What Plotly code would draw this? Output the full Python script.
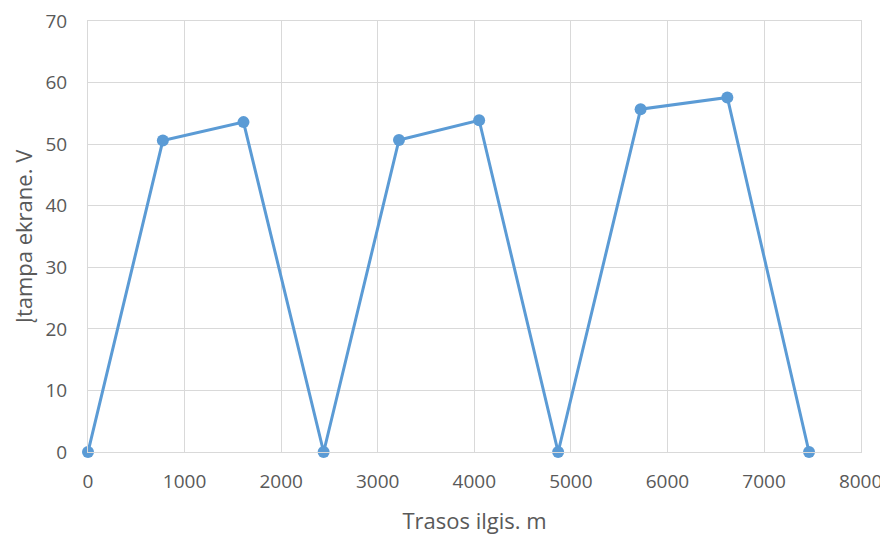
import plotly.graph_objects as go

distance_m = [0, 775, 1610, 2440, 3220, 4050, 4868, 5722, 6620, 7466]
voltage_v = [0, 50.6, 53.6, 0, 50.7, 53.9, 0, 55.7, 57.6, 0]

x_ticks = [0, 1000, 2000, 3000, 4000, 5000, 6000, 7000, 8000]
y_ticks = [0, 10, 20, 30, 40, 50, 60, 70]

x_title = "Trasos ilgis. m"
y_title = "Įtampa ekrane. V"

line_color = "#5B9BD5"
grid_color = "#D9D9D9"
text_color = "#595959"
font_family = "Open Sans, Segoe UI, Liberation Sans, sans-serif"

fig = go.Figure()
fig.add_trace(go.Scatter(
    x=distance_m, y=voltage_v,
    mode="lines+markers",
    line=dict(color=line_color, width=3),
    marker=dict(color=line_color, size=12),
    showlegend=False,
    cliponaxis=False,
))

# page body has an 8px default margin, so the figure is 8px smaller
fig.update_layout(
    width=880, height=527,
    margin=dict(l=80, r=27, t=13, b=83, autoexpand=False),
    paper_bgcolor="white",
    plot_bgcolor="white",
    font=dict(family=font_family, color=text_color, size=19),
)
fig.update_xaxes(
    range=[0, 8004], tickvals=x_ticks, ticktext=[str(v) for v in x_ticks],
    showgrid=True, gridcolor=grid_color, gridwidth=1,
    zeroline=False, showline=True, linecolor=grid_color, linewidth=1, mirror=True,
    ticks="", ticklabelstandoff=12, automargin=False, ticklabeloverflow="allow",
    title=dict(text=x_title, font=dict(size=22, color=text_color), standoff=21),
    fixedrange=True,
)
fig.update_yaxes(
    range=[0, 70.03], tickvals=y_ticks, ticktext=[str(v) for v in y_ticks],
    showgrid=True, gridcolor=grid_color, gridwidth=1,
    zeroline=False, showline=True, linecolor=grid_color, linewidth=1, mirror=True,
    ticks="", ticklabelstandoff=16, automargin=False, ticklabeloverflow="allow",
    title=dict(text=y_title, font=dict(size=22, color=text_color), standoff=16),
    fixedrange=True,
)

fig.write_html("out.html")
